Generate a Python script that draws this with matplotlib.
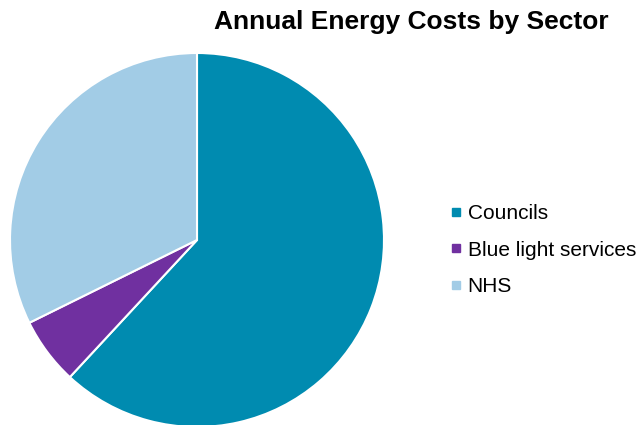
import matplotlib.pyplot as plt
from matplotlib.lines import Line2D

plt.rcParams['font.family'] = ['Liberation Sans', 'DejaVu Sans']

sectors = ['Councils', 'Blue light services', 'NHS']
costs = [61.9, 5.8, 32.3]
colors = ['#008BB0', '#7030A0', '#A2CCE6']

fig = plt.figure(figsize=(6.39, 4.25), dpi=100)
ax = fig.add_axes([10 / 639, -2 / 425, 374 / 639, 374 / 425])

wedges, _ = ax.pie(costs, colors=colors, startangle=90, counterclock=False,
                   radius=1, wedgeprops=dict(edgecolor='white', linewidth=1.5))
ax.set_xlim(-1, 1)
ax.set_ylim(-1, 1)
ax.set_aspect('equal')

fig.text(411 / 639, 1 - 22 / 425, 'Annual Energy Costs by Sector',
         ha='center', va='center', fontsize=19, fontweight='bold')

handles = [Line2D([], [], marker='s', linestyle='none', markersize=6,
                  markerfacecolor=c, markeredgecolor=c) for c in colors]
fig.legend(handles, sectors, loc='center left',
           bbox_to_anchor=(450 / 639, 1 - 250 / 425), frameon=False,
           fontsize=15, labelspacing=0.84, handletextpad=0.25,
           handlelength=0.6, borderpad=0, borderaxespad=0)

fig.savefig('out.png', dpi=100)
